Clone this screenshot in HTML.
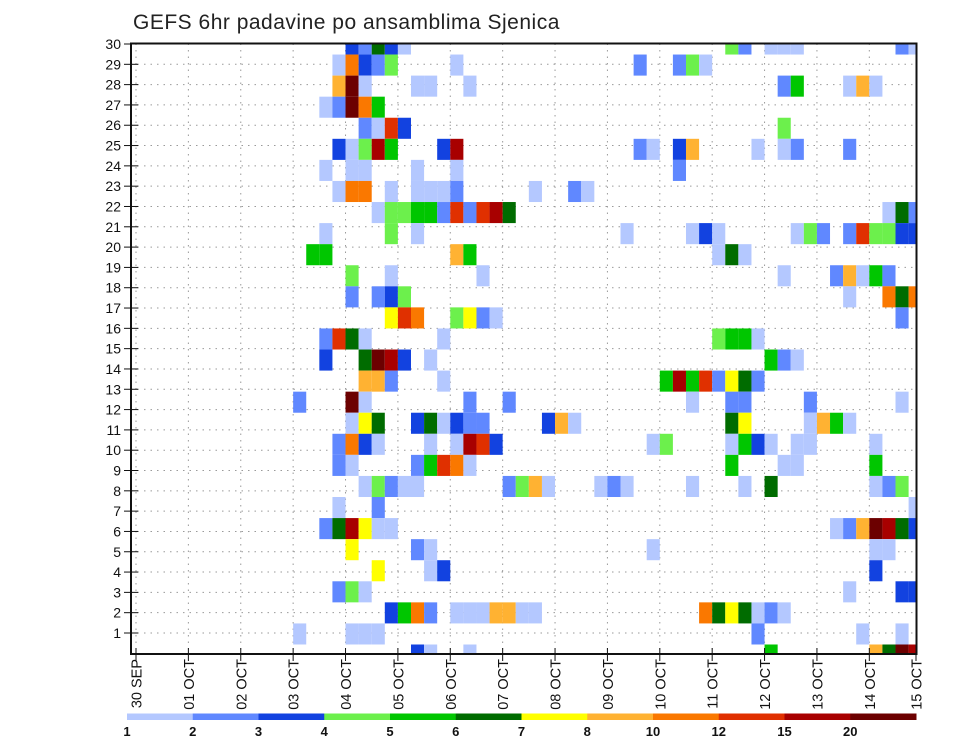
<!DOCTYPE html>
<html><head><meta charset="utf-8"><style>
html,body{margin:0;padding:0;background:#fff;}
svg{display:block;font-family:"Liberation Sans",sans-serif;}
</style></head><body>
<svg id="chart" width="960" height="742" viewBox="0 0 960 742" xmlns="http://www.w3.org/2000/svg">
<text x="133" y="29" font-size="21" fill="#222" letter-spacing="0.5">GEFS 6hr padavine po ansamblima Sjenica</text>
<g id="grid"></g>
<g id="cells"></g>
<g id="axes"></g>
<g id="cbar"></g>
</svg>
<script>
const members = [30,29,28,27,26,25,24,23,22,21,20,19,18,17,16,15,14,13,12,11,10,9,8,7,6,5,4,3,2,1];
const stepsByMember = [
[16,17,18,19,20,45,46,48,49,50,58,59],
[15,16,17,18,19,24,38,41,42,43],
[15,16,17,21,22,25,49,50,54,55,56],
[14,15,16,17,18],
[17,18,19,20,49],
[15,16,17,18,19,23,24,38,39,41,42,47,49,50,54],
[14,16,17,21,24,41],
[15,16,17,19,21,22,23,24,30,33,34],
[18,19,20,21,22,23,24,25,26,27,28,57,58,59],
[14,19,21,37,42,43,44,50,51,52,54,55,56,57,58,59],
[13,14,24,25,44,45,46],
[16,19,26,49,53,54,55,56,57],
[16,18,19,20,54,57,58,59],
[19,20,21,24,25,26,27,58],
[14,15,16,17,23,44,45,46,47],
[14,17,18,19,20,22,48,49,50],
[17,18,19,23,40,41,42,43,44,45,46,47],
[12,16,17,25,28,42,45,46,51,58],
[16,17,18,21,22,23,24,25,26,31,32,33,45,46,51,52,53,54],
[15,16,17,18,22,24,25,26,27,39,40,45,46,47,48,50,51,56],
[15,16,21,22,23,24,25,45,49,50,56],
[17,18,19,20,21,28,29,30,31,35,36,37,42,46,48,56,57,58],
[15,18,59],
[14,15,16,17,18,19,53,54,55,56,57,58,59],
[16,21,22,39,56,57],
[18,22,23,56],
[15,16,17,54,58,59],
[19,20,21,22,24,25,26,27,28,29,30,43,44,45,46,47,48,49],
[12,16,17,18,47,55,58],
[21,22,25,48,56,57,58,59]
];
const valuesByMember = [
[3,2,6,3,1,4,2,1,1,1,2,1],
[1,10,3,2,4,1,2,2,4,1],
[8,20,1,1,1,1,2,5,1,8,1],
[1,2,20,10,5],
[2,1,12,3,4],
[3,1,4,15,5,3,15,2,1,3,8,1,1,2,2],
[1,1,1,1,1,2],
[1,10,10,1,1,1,1,2,1,2,1],
[1,4,4,5,5,2,12,2,12,15,6,1,6,2],
[1,4,1,1,1,3,1,1,4,2,2,12,4,4,3,3],
[5,5,8,5,1,6,1],
[4,1,1,1,2,8,1,5,2],
[2,2,3,4,1,10,6,10],
[7,12,10,4,7,2,1,2],
[2,12,6,1,1,4,5,5,1],
[3,6,20,15,3,1,5,2,1],
[8,8,2,1,5,15,5,12,2,7,6,2],
[2,20,1,2,2,1,2,2,2,1],
[1,7,6,3,6,1,3,2,2,3,8,1,6,7,1,8,5,1],
[2,10,3,1,1,1,15,12,3,1,4,1,5,3,1,1,1,1],
[2,1,2,5,12,10,1,5,1,1,5],
[1,4,2,1,1,2,4,8,1,1,2,1,1,1,6,1,2,4],
[1,2,1],
[2,6,15,7,1,1,1,2,8,20,15,6,3],
[7,2,1,1,1,1],
[7,1,3,3],
[2,4,1,1,3,3],
[3,5,10,2,1,1,1,8,8,1,1,10,6,7,6,1,2,1],
[1,1,1,1,2,1,1],
[3,1,1,5,8,6,20,15]
];
const dayLabels = ["30 SEP","01 OCT","02 OCT","03 OCT","04 OCT","05 OCT","06 OCT","07 OCT","08 OCT","09 OCT","10 OCT","11 OCT","12 OCT","13 OCT","14 OCT","15 OCT"];
const yTickLabels = [1,2,3,4,5,6,7,8,9,10,11,12,13,14,15,16,17,18,19,20,21,22,23,24,25,26,27,28,29,30];
const levels = [1,2,3,4,5,6,7,8,10,12,15,20];
const levelColors = ["#b4c8ff","#6088ff","#1242e0","#6cf04c","#00c600","#006c00","#ffff00","#ffb232","#fa7800","#e03000","#a80000","#6c0000"];

const NS = "http://www.w3.org/2000/svg";
const PL = 131, PR = 916.5, PT = 43.5, PB = 654;
const X0 = 136, STEP = 13.095;           // px per 6h step
const xStep = s => X0 + s * STEP;
const xDay = d => X0 + d * 4 * STEP;
const ROWH = 21.07;
const yRowCenter = m => 44 + (30 - m) * ROWH;
const yLabel = v => 44 + (30 - v) * 20.31;
function colorFor(v){ let c = levelColors[0]; for (let i=0;i<levels.length;i++) if (v>=levels[i]) c = levelColors[i]; return c; }
function mk(tag, attrs, parent){ const e=document.createElementNS(NS,tag); for(const k in attrs) e.setAttribute(k,attrs[k]); parent.appendChild(e); return e; }

const grid = document.getElementById('grid');
for (const v of yTickLabels.slice(0,29)) {
  const l = mk('line',{x1:PL,x2:PR,y1:yLabel(v),y2:yLabel(v),stroke:'#9a9a9a','stroke-width':1,'stroke-dasharray':'1.5 5'},grid);
  
  
}
for (let d=0; d<15; d++) {
  const l = mk('line',{x1:xDay(d),x2:xDay(d),y1:PT,y2:PB,stroke:'#9a9a9a','stroke-width':1,'stroke-dasharray':'1.5 5'},grid);
  
  
}

const cells = document.getElementById('cells');
members.forEach((m, i) => {
  const steps = stepsByMember[i], vals = valuesByMember[i];
  const yc = yRowCenter(m);
  const y1 = Math.max(PT, yc - ROWH/2), y2 = Math.min(PB, yc + ROWH/2);
  steps.forEach((s, j) => {
    const x1 = xStep(s), x2 = Math.min(PR, xStep(s+1));
    const r = mk('rect',{x:x1,y:y1,width:x2-x1,height:y2-y1,fill:colorFor(vals[j])},cells);
    
    
  });
});

const axes = document.getElementById('axes');
const frame = mk('rect',{x:PL,y:PT,width:PR-PL,height:PB-PT,fill:'none',stroke:'#111','stroke-width':2},axes);


for (const v of yTickLabels) {
  const y = yLabel(v);
  mk('line',{x1:124,x2:138,y1:y,y2:y,stroke:'#111','stroke-width':1},axes);
  const t = mk('text',{x:121,y:y+5,'text-anchor':'end','font-size':14,fill:'#111'},axes);
  t.textContent = v;
  
  
}
dayLabels.forEach((lab, d) => {
  const x = Math.min(xDay(d), 916);
  mk('line',{x1:x,x2:x,y1:PB-6,y2:PB+7,stroke:'#111','stroke-width':1},axes);
  const t = mk('text',{transform:`translate(${x+5.5},659) rotate(-90)`,'text-anchor':'end','font-size':14.5,fill:'#111'},axes);
  t.textContent = lab;
  
  
});

const cbar = document.getElementById('cbar');
const CB0 = 127, CBW = 65.75;
levels.forEach((lv, i) => {
  const r = mk('rect',{x:CB0+i*CBW,y:713.5,width:CBW+0.5,height:6.5,fill:levelColors[i]},cbar);
  
  
  const t = mk('text',{x:CB0+i*CBW,y:736,'text-anchor':'middle','font-size':13,'font-weight':'bold',fill:'#111'},cbar);
  t.textContent = lv;
  
  
});
</script>
</body></html>
